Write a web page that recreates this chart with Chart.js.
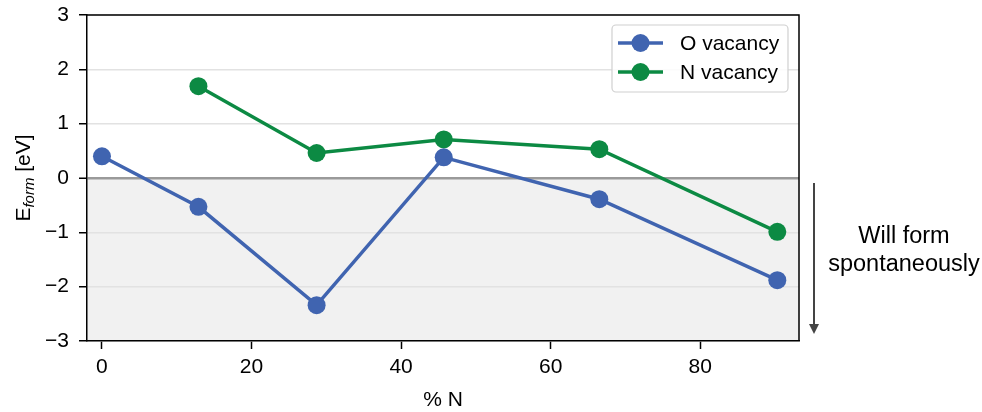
<!DOCTYPE html>
<html>
<head>
<meta charset="utf-8">
<script src="https://cdn.jsdelivr.net/npm/chart.js@4/dist/chart.umd.min.js"></script>
<style>
  html, body { margin: 0; padding: 0; background: #fff; }
  #wrap { width: 982px; height: 412px; position: relative; }
</style>
</head>
<body>
<div id="wrap"><canvas id="chart"></canvas></div>
<script>
// data
const percentN = [0, 12.9, 28.7, 45.7, 66.5, 90.3];
const oVacancy = [0.40, -0.53, -2.34, 0.38, -0.39, -1.88];
const nVacancy = [null, 1.69, 0.46, 0.71, 0.53, -0.99];
const xTicks = [0, 20, 40, 60, 80];
const yTicks = [-3, -2, -1, 0, 1, 2, 3];
const seriesNames = ['O vacancy', 'N vacancy'];

const FONT = "'Liberation Sans', Arial, sans-serif";
const BLUE = '#4064b0';
const GREEN = '#0c8a43';

function toPoints(ys) {
  const pts = [];
  ys.forEach((y, i) => { if (y !== null) pts.push({ x: percentN[i], y: y }); });
  return pts;
}

// shaded area below zero, top/right spines, legend, labels, arrow
const extras = {
  id: 'extras',
  beforeDraw(chart) {
    const { ctx, chartArea: a, scales } = chart;
    const y0 = scales.y.getPixelForValue(0);
    ctx.save();
    ctx.fillStyle = '#f1f1f1';
    ctx.fillRect(a.left, y0, a.right - a.left, a.bottom - y0);
    ctx.restore();
  },
  afterDraw(chart) {
    const { ctx, chartArea: a } = chart;
    ctx.save();
    // top and right spines
    ctx.strokeStyle = '#000';
    ctx.lineWidth = 1.5;
    ctx.beginPath();
    ctx.moveTo(a.left, a.top);
    ctx.lineTo(a.right, a.top);
    ctx.lineTo(a.right, a.bottom);
    ctx.stroke();

    // legend
    const lx = 612, ly = 25, lw = 176, lh = 67;
    ctx.fillStyle = 'rgba(255,255,255,0.85)';
    ctx.strokeStyle = '#d0d0d0';
    ctx.lineWidth = 1.2;
    ctx.beginPath();
    ctx.roundRect(lx, ly, lw, lh, 4);
    ctx.fill();
    ctx.stroke();
    [BLUE, GREEN].forEach((c, i) => {
      const yy = 43 + i * 29;
      ctx.strokeStyle = c;
      ctx.lineWidth = 3.5;
      ctx.beginPath();
      ctx.moveTo(618, yy);
      ctx.lineTo(663, yy);
      ctx.stroke();
      ctx.fillStyle = c;
      ctx.beginPath();
      ctx.arc(640.5, yy, 9, 0, Math.PI * 2);
      ctx.fill();
      ctx.fillStyle = '#000';
      ctx.font = '21px ' + FONT;
      ctx.textBaseline = 'middle';
      ctx.textAlign = 'left';
      ctx.fillText(seriesNames[i], 680, yy + 1);
    });

    // x title
    ctx.fillStyle = '#000';
    ctx.font = '21px ' + FONT;
    ctx.textAlign = 'center';
    ctx.textBaseline = 'middle';
    ctx.fillText('% N', (a.left + a.right) / 2, 400);

    // y title with subscript
    ctx.save();
    ctx.translate(23, (a.top + a.bottom) / 2);
    ctx.rotate(-Math.PI / 2);
    ctx.textAlign = 'left';
    ctx.textBaseline = 'alphabetic';
    const big = '21px ' + FONT, small = 'italic 15px ' + FONT;
    ctx.font = big; const wE = ctx.measureText('E').width;
    ctx.font = small; const wS = ctx.measureText('form').width;
    ctx.font = big; const wU = ctx.measureText(' [eV]').width;
    let x = -(wE + wS + wU) / 2;
    const base = 7;
    ctx.font = big; ctx.fillText('E', x, base); x += wE;
    ctx.font = small; ctx.fillText('form', x, base + 4); x += wS;
    ctx.font = big; ctx.fillText(' [eV]', x, base);
    ctx.restore();

    // arrow and annotation
    const ax = 814, ay1 = 183, ay2 = 334;
    ctx.strokeStyle = '#444';
    ctx.fillStyle = '#444';
    ctx.lineWidth = 2;
    ctx.beginPath();
    ctx.moveTo(ax, ay1);
    ctx.lineTo(ax, ay2 - 8);
    ctx.stroke();
    ctx.beginPath();
    ctx.moveTo(ax - 5, ay2 - 10);
    ctx.lineTo(ax + 5, ay2 - 10);
    ctx.lineTo(ax, ay2);
    ctx.closePath();
    ctx.fill();

    ctx.fillStyle = '#000';
    ctx.font = '23.5px ' + FONT;
    ctx.textAlign = 'center';
    ctx.textBaseline = 'middle';
    ctx.fillText('Will form', 904, 237);
    ctx.fillText('spontaneously', 904, 265);
    ctx.restore();
  }
};

new Chart(document.getElementById('chart'), {
  type: 'scatter',
  data: {
    datasets: [
      {
        label: seriesNames[0],
        data: toPoints(oVacancy),
        showLine: true,
        borderColor: BLUE,
        backgroundColor: BLUE,
        borderWidth: 3.5,
        pointRadius: 9,
        pointHoverRadius: 9,
        pointBorderWidth: 0
      },
      {
        label: seriesNames[1],
        data: toPoints(nVacancy),
        showLine: true,
        borderColor: GREEN,
        backgroundColor: GREEN,
        borderWidth: 3.5,
        pointRadius: 9,
        pointHoverRadius: 9,
        pointBorderWidth: 0
      }
    ]
  },
  options: {
    responsive: true,
    maintainAspectRatio: false,
    animation: false,
    devicePixelRatio: 1,
    layout: { padding: { left: 0, right: 183, top: 15, bottom: 0 } },
    plugins: {
      legend: { display: false },
      tooltip: { enabled: false }
    },
    scales: {
      x: {
        type: 'linear',
        min: -2,
        max: 93.2,
        afterBuildTicks: s => { s.ticks = xTicks.map(v => ({ value: v })); },
        afterFit: s => { s.height = 71; s.paddingLeft = 0; s.paddingRight = 0; },
        grid: {
          drawOnChartArea: false,
          drawTicks: true,
          tickLength: 8,
          tickColor: '#000',
          tickWidth: 1.5
        },
        border: { color: '#000', width: 1.5 },
        ticks: {
          color: '#000',
          padding: 6,
          maxRotation: 0,
          font: { family: FONT, size: 21 }
        }
      },
      y: {
        min: -3,
        max: 3,
        afterBuildTicks: s => { s.ticks = yTicks.map(v => ({ value: v })); },
        afterFit: s => { s.width = 87; s.paddingTop = 0; s.paddingBottom = 0; },
        grid: {
          color: ctx => ctx.tick && ctx.tick.value === 0 ? '#9a9a9a' : '#e2e2e2',
          lineWidth: ctx => ctx.tick && ctx.tick.value === 0 ? 2.5 : 1.5,
          drawTicks: true,
          tickLength: 8,
          tickColor: '#000',
          tickWidth: 1.5
        },
        border: { color: '#000', width: 1.5 },
        ticks: {
          color: '#000',
          padding: 10,
          font: { family: FONT, size: 21 },
          callback: v => (v < 0 ? '\u2212' + Math.abs(v) : String(v))
        }
      }
    }
  },
  plugins: [extras]
});
</script>
</body>
</html>
